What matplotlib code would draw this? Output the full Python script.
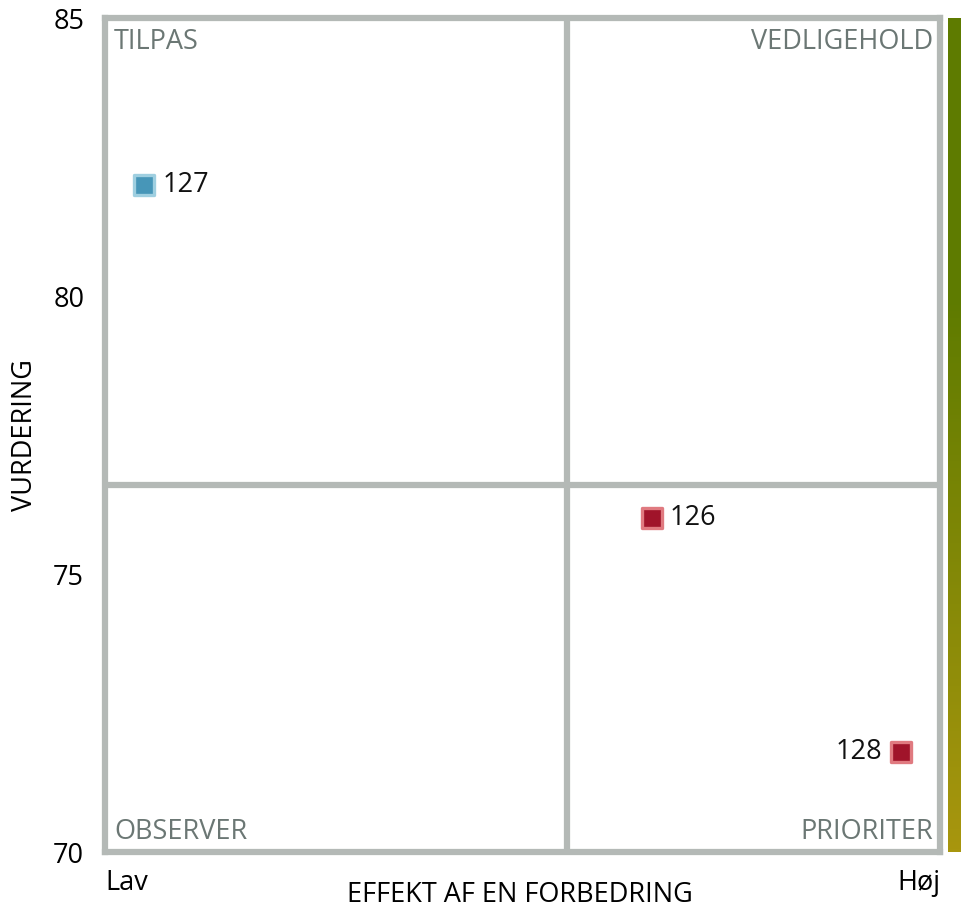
import matplotlib
matplotlib.use("Agg")
import matplotlib.pyplot as plt
import numpy as np
from matplotlib.colors import LinearSegmentedColormap

ids = ["127", "126", "128"]
effekt = [4.7, 65.5, 95.3]
vurdering = [82.0, 76.0, 71.8]
fills = ["#4796b8", "#a0142a", "#a0142a"]
edges = ["#9fcfe0", "#e07a80", "#e07a80"]
label_side = ["right", "right", "left"]
quadrants = ["TILPAS", "VEDLIGEHOLD", "OBSERVER", "PRIORITER"]
x_mid = 55.3
y_mid = 76.6
y_ticks = [70, 75, 80, 85]

plt.rcParams['font.family'] = ['Open Sans', 'DejaVu Sans']
fig = plt.figure(figsize=(9.61, 9.11), dpi=100)
ax = fig.add_axes([105/961, 1-852/911, 835/961, 834/911])
ax.set_xlim(0, 100)
ax.set_ylim(70, 85)
grid_c = "#b4b9b6"
for s in ax.spines.values():
    s.set_color(grid_c)
    s.set_linewidth(4.5)
ax.axvline(x_mid, color=grid_c, lw=4.5, zorder=1)
ax.axhline(y_mid, color=grid_c, lw=4.5, zorder=1)

for x, y, t, fc, ec, side in zip(effekt, vurdering, ids, fills, edges, label_side):
    ax.scatter([x], [y], s=210, marker="s", facecolor=fc, edgecolor=ec, linewidth=2.4, zorder=3)
    if side == "right":
        ax.annotate(t, (x, y), xytext=(13, 0), textcoords="offset points", ha="left", va="center", fontsize=19.5, color="#111111")
    else:
        ax.annotate(t, (x, y), xytext=(-13, 0), textcoords="offset points", ha="right", va="center", fontsize=19.5, color="#111111")

qc = "#6b7774"
qfs = 19.5
ax.text(0.011, 0.988, quadrants[0], transform=ax.transAxes, ha="left", va="top", fontsize=qfs, color=qc)
ax.text(0.992, 0.988, quadrants[1], transform=ax.transAxes, ha="right", va="top", fontsize=qfs, color=qc)
ax.text(0.011, 0.007, quadrants[2], transform=ax.transAxes, ha="left", va="bottom", fontsize=qfs, color=qc)
ax.text(0.992, 0.007, quadrants[3], transform=ax.transAxes, ha="right", va="bottom", fontsize=qfs, color=qc)

ax.set_yticks(y_ticks)
ax.set_yticklabels([str(v) for v in y_ticks], fontsize=19.5)
ax.tick_params(axis="y", length=0, pad=15)
ax.set_xticks([0, 100])
xtl = ax.set_xticklabels(["Lav", "Høj"], fontsize=19.5)
xtl[0].set_ha("left")
xtl[1].set_ha("right")
ax.tick_params(axis="x", length=0, pad=12)
fig.text(520/961, 1-895/911, "EFFEKT AF EN FORBEDRING", fontsize=19.5, ha="center", va="center")
fig.text(25/961, 1-435/911, "VURDERING", fontsize=19.5, ha="center", va="center", rotation=90)

# side colour bar
cax = fig.add_axes([948/961, 1-852/911, 13/961, 834/911])
cmap = LinearSegmentedColormap.from_list("g", [(0, "#a8960e"), (0.667, "#5e7b00"), (1.0, "#5e7b00")])
grad = np.linspace(1, 0, 256).reshape(-1, 1)
cax.imshow(grad, aspect="auto", cmap=cmap, vmin=0, vmax=1, extent=[0, 1, 0, 1])
cax.axis("off")

fig.savefig("out.png", dpi=100)
